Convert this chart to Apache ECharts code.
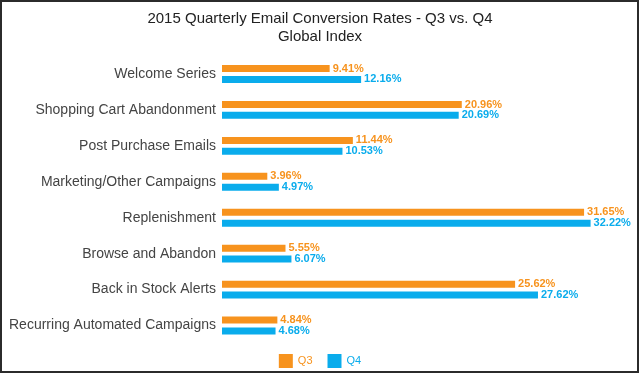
<!DOCTYPE html>
<html><head><meta charset="utf-8">
<script src="https://cdn.jsdelivr.net/npm/echarts@6/dist/echarts.min.js"></script>
<style>html,body{margin:0;padding:0;background:#fff}#c{width:640px;height:374px}</style>
</head><body><div id="c"></div>
<script>
const categories = ["Welcome Series","Shopping Cart Abandonment","Post Purchase Emails","Marketing/Other Campaigns","Replenishment","Browse and Abandon","Back in Stock Alerts","Recurring Automated Campaigns"];
const q3Values = [9.41,20.96,11.44,3.96,31.65,5.55,25.62,4.84];
const q4Values = [12.16,20.69,10.53,4.97,32.22,6.07,27.62,4.68];
const seriesNames = ["Q3","Q4"];
const titleText = "2015 Quarterly Email Conversion Rates - Q3 vs. Q4\nGlobal Index";

const orange = '#F7931E', blue = '#0AACEC';
const font = 'Liberation Sans, Arial, sans-serif';
const chart = echarts.init(document.getElementById('c'));
function lbl(color){return {show:true,position:'right',distance:3,color:color,fontSize:11,fontWeight:'bold',fontFamily:font,formatter:p=>p.value.toFixed(2)+'%'};}
chart.setOption({
  animation:false,
  title:{text:titleText,left:'center',top:5,textStyle:{fontFamily:font,fontSize:15,fontWeight:'normal',color:'#222',lineHeight:18}},
  legend:{data:[{name:seriesNames[0],textStyle:{color:orange}},{name:seriesNames[1],textStyle:{color:blue}}],
    bottom:1,left:'center',itemWidth:14,itemHeight:14,itemGap:15,
    textStyle:{fontFamily:font,fontSize:11},icon:'rect'},
  grid:{left:222,width:400.4,top:56,height:287.5,containLabel:false},
  xAxis:{type:'value',min:0,max:35,show:false},
  yAxis:{type:'category',data:categories,inverse:true,axisLine:{show:false},axisTick:{show:false},
    axisLabel:{fontFamily:font,fontSize:14,color:'#444',margin:6}},
  series:[
    {name:seriesNames[0],type:'bar',data:q3Values,barWidth:7,barGap:'55%',itemStyle:{color:orange},label:lbl(orange)},
    {name:seriesNames[1],type:'bar',data:q4Values,barWidth:7,itemStyle:{color:blue},label:lbl(blue)}
  ],
  graphic:[{type:'rect',shape:{x:1,y:1,width:637,height:371},style:{fill:'none',stroke:'#2b2b2b',lineWidth:2},silent:true}]
});
</script></body></html>
